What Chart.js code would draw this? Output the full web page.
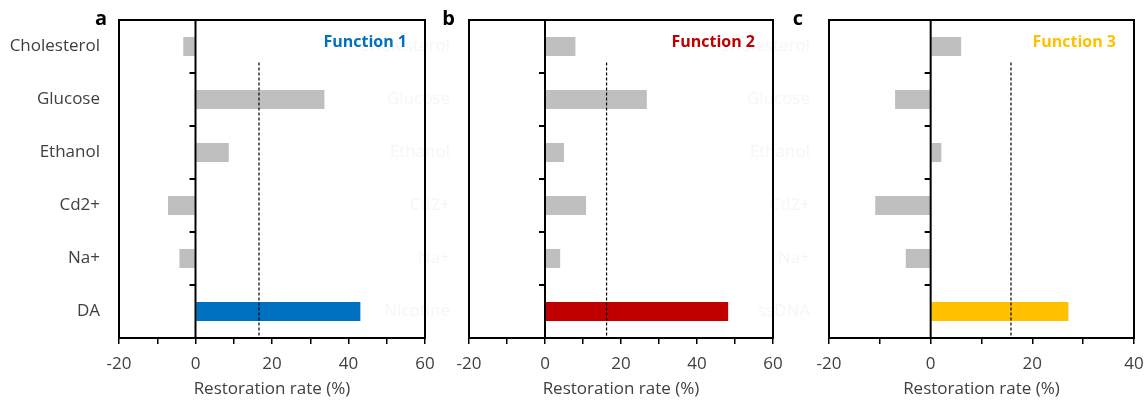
<!DOCTYPE html>
<html>
<head>
<meta charset="utf-8">
<script src="https://cdn.jsdelivr.net/npm/chart.js@4.4.0/dist/chart.umd.min.js"></script>
<style>
  html, body { margin: 0; padding: 0; background: #fff; overflow: hidden; }
  #wrap { position: relative; width: 1146px; height: 405px; }
  .panel { position: absolute; top: 0; }
</style>
</head>
<body>
<div id="wrap">
  <div class="panel" style="left:0px; z-index:3"><canvas id="chartA" width="440" height="405"></canvas></div>
  <div class="panel" style="left:350px; z-index:2"><canvas id="chartB" width="438" height="405"></canvas></div>
  <div class="panel" style="left:710px; z-index:1"><canvas id="chartC" width="439" height="405"></canvas></div>
</div>
<script>
// categories (panel b and c keep their own, nearly white labels)
const categoriesA = ['Cholesterol', 'Glucose', 'Ethanol', 'Cd2+', 'Na+', 'DA'];
const categoriesB = ['Cholesterol', 'Glucose', 'Ethanol', 'Cd2+', 'Na+', 'Nicotine'];
const categoriesC = ['Cholesterol', 'Glucose', 'Ethanol', 'Cd2+', 'Na+', 'ssDNA'];

// restoration rate (%)
const function1 = [-3.2, 33.7, 8.7, -7.2, -4.2, 43.1];
const function2 = [8.0, 26.8, 5.0, 10.8, 4.0, 48.2];
const function3 = [6.0, -7.0, 2.1, -10.9, -4.9, 27.1];

// dashed threshold per panel
const thresholds = [16.6, 16.2, 15.8];

// x axis ranges
const xMins = [-20, -20, -20];
const xMaxs = [60, 60, 40];

const FONT = '"Open Sans", "Liberation Sans", sans-serif';
const TEXT = '#404040';
const GHOST = '#F6F6F6';
const GREY = '#BFBFBF';

// frame, zero line, category ticks, threshold, panel letter and title
const panelDecor = {
  id: 'panelDecor',
  afterDatasetsDraw(chart, args, opts) {
    const { ctx, chartArea: a, scales: { x, y } } = chart;
    ctx.save();

    // threshold
    const tx = x.getPixelForValue(opts.threshold);
    ctx.strokeStyle = '#000';
    ctx.lineWidth = 1.2;
    ctx.setLineDash([3, 2]);
    ctx.beginPath();
    ctx.moveTo(tx, y.getPixelForValue(0.3));
    ctx.lineTo(tx, a.bottom);
    ctx.stroke();
    ctx.setLineDash([]);

    // zero line
    const zx = x.getPixelForValue(0);
    ctx.lineWidth = 2;
    ctx.beginPath();
    ctx.moveTo(zx, a.top);
    ctx.lineTo(zx, a.bottom);
    ctx.stroke();

    // ticks between categories, on the zero line
    const n = chart.data.labels.length;
    ctx.beginPath();
    for (let i = 0; i < n - 1; i++) {
      const yy = Math.round((y.getPixelForTick(i) + y.getPixelForTick(i + 1)) / 2);
      ctx.moveTo(zx, yy);
      ctx.lineTo(zx - 6, yy);
    }
    ctx.stroke();

    // frame
    ctx.strokeRect(a.left, a.top, a.right - a.left, a.bottom - a.top);

    // panel letter
    ctx.fillStyle = '#000';
    ctx.font = 'bold 20px ' + FONT;
    ctx.textAlign = 'right';
    ctx.textBaseline = 'alphabetic';
    ctx.fillText(opts.letter, a.left + opts.letterDx, a.top + 5);

    // panel title
    ctx.fillStyle = opts.color;
    ctx.font = 'bold 16px ' + FONT;
    ctx.textAlign = 'right';
    ctx.textBaseline = 'middle';
    ctx.fillText(opts.title, a.right - 18, a.top + 22);

    ctx.restore();
  }
};

function makePanel(id, labels, values, idx, color, letter, letterDx, labelColor) {
  const colors = values.map((v, i) => i === values.length - 1 ? color : GREY);
  return new Chart(document.getElementById(id), {
    type: 'bar',
    data: {
      labels: labels,
      datasets: [{
        data: values,
        backgroundColor: colors,
        borderWidth: 0,
        categoryPercentage: 1,
        barPercentage: 0.36
      }]
    },
    options: {
      indexAxis: 'y',
      responsive: false,
      animation: false,
      devicePixelRatio: 1,
      layout: { padding: { top: 20, right: 15, left: 0, bottom: 0 } },
      plugins: {
        legend: { display: false },
        tooltip: { enabled: false },
        panelDecor: {
          threshold: thresholds[idx],
          color: color,
          title: 'Function ' + (idx + 1),
          letter: letter,
          letterDx: letterDx
        }
      },
      scales: {
        x: {
          type: 'linear',
          min: xMins[idx],
          max: xMaxs[idx],
          ticks: {
            stepSize: 10,
            autoSkip: false,
            maxRotation: 0,
            padding: 10,
            color: TEXT,
            font: { family: FONT, size: 17 },
            callback: v => (v % 20 === 0 ? String(v) : '')
          },
          grid: { drawOnChartArea: false, drawTicks: true, tickLength: 6, color: '#000', lineWidth: 1.5 },
          border: { display: false },
          title: {
            display: true,
            text: 'Restoration rate (%)',
            color: TEXT,
            font: { family: FONT, size: 17 },
            padding: { top: 0, bottom: 6 }
          },
          afterFit(scale) {
            scale.height = 67;
            scale.paddingLeft = 0;
            scale.paddingRight = 0;
          }
        },
        y: {
          ticks: { color: labelColor, font: { family: FONT, size: 17 }, padding: 11 },
          grid: { display: false },
          border: { display: false },
          afterFit(scale) {
            scale.width = 119;
            scale.paddingTop = 0;
            scale.paddingBottom = 0;
          }
        }
      }
    },
    plugins: [panelDecor]
  });
}

makePanel('chartA', categoriesA, function1, 0, '#0070C0', 'a', -12, TEXT);
makePanel('chartB', categoriesB, function2, 1, '#C00000', 'b', -14, GHOST);
makePanel('chartC', categoriesC, function3, 2, '#FFC000', 'c', -26, GHOST);
</script>
</body>
</html>
